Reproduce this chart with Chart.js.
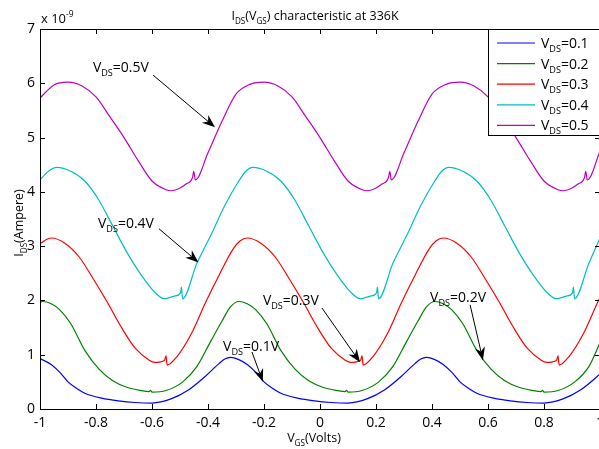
<!DOCTYPE html>
<html lang="en">
<head>
<meta charset="UTF-8">
<title>IDS(VGS) characteristic at 336K</title>
<script src="https://cdn.jsdelivr.net/npm/chart.js@4.4.1/dist/chart.umd.min.js"></script>
<style>
  html, body { margin: 0; padding: 0; background: #fff; overflow: hidden; }
  #wrap { width: 612px; height: 449px; }
</style>
</head>
<body>
<div id="wrap"><canvas id="chart" width="612" height="449"></canvas></div>
<script>
// V_GS sample points (Volts) and I_DS values (x 1e-9 A)
var vgs01 = [-1, -0.96, -0.93, -0.9, -0.87, -0.84, -0.78, -0.72, -0.66, -0.6, -0.53, -0.47, -0.41, -0.36, -0.34, -0.32, -0.29, -0.26, -0.23, -0.2, -0.17, -0.14, -0.08, -0.02, 0.04, 0.1, 0.17, 0.23, 0.29, 0.34, 0.36, 0.38, 0.41, 0.44, 0.47, 0.5, 0.53, 0.56, 0.62, 0.68, 0.74, 0.8, 0.87, 0.93, 0.99, 1];
var ids01 = [0.93, 0.82, 0.68, 0.5, 0.38, 0.29, 0.2, 0.15, 0.12, 0.11, 0.19, 0.35, 0.6, 0.84, 0.92, 0.95, 0.91, 0.82, 0.68, 0.5, 0.38, 0.29, 0.2, 0.15, 0.12, 0.11, 0.19, 0.35, 0.6, 0.84, 0.92, 0.95, 0.91, 0.82, 0.68, 0.5, 0.38, 0.29, 0.2, 0.15, 0.12, 0.11, 0.19, 0.35, 0.6, 0.65];

var vgs02 = [-1, -0.99, -0.96, -0.93, -0.89, -0.84, -0.79, -0.74, -0.69, -0.64, -0.61, -0.605, -0.6, -0.55, -0.49, -0.44, -0.39, -0.35, -0.32, -0.29, -0.26, -0.23, -0.19, -0.14, -0.09, -0.04, 0.01, 0.06, 0.09, 0.095, 0.1, 0.15, 0.21, 0.26, 0.31, 0.35, 0.38, 0.41, 0.44, 0.47, 0.51, 0.56, 0.61, 0.66, 0.71, 0.76, 0.79, 0.795, 0.8, 0.85, 0.91, 0.96, 1];
var ids02 = [1.97, 1.98, 1.94, 1.83, 1.57, 1.08, 0.74, 0.52, 0.4, 0.34, 0.32, 0.345, 0.31, 0.34, 0.5, 0.78, 1.25, 1.62, 1.88, 1.98, 1.94, 1.83, 1.57, 1.08, 0.74, 0.52, 0.4, 0.34, 0.32, 0.345, 0.31, 0.34, 0.5, 0.78, 1.25, 1.62, 1.88, 1.98, 1.94, 1.83, 1.57, 1.08, 0.74, 0.52, 0.4, 0.34, 0.32, 0.345, 0.31, 0.34, 0.5, 0.78, 1.22];

var vgs03 = [-1, -0.96, -0.91, -0.86, -0.81, -0.76, -0.71, -0.66, -0.61, -0.59, -0.555, -0.55, -0.546, -0.51, -0.46, -0.41, -0.36, -0.31, -0.285, -0.26, -0.21, -0.16, -0.11, -0.06, -0.01, 0.04, 0.09, 0.11, 0.145, 0.15, 0.154, 0.19, 0.24, 0.29, 0.34, 0.39, 0.415, 0.44, 0.49, 0.54, 0.59, 0.64, 0.69, 0.74, 0.79, 0.81, 0.845, 0.85, 0.854, 0.89, 0.94, 0.99, 1];
var ids03 = [3.05, 3.15, 3.05, 2.8, 2.4, 1.97, 1.51, 1.12, 0.9, 0.86, 0.9, 0.98, 0.81, 0.97, 1.38, 1.95, 2.47, 2.95, 3.1, 3.15, 3.05, 2.8, 2.4, 1.97, 1.51, 1.12, 0.9, 0.86, 0.9, 0.98, 0.81, 0.97, 1.38, 1.95, 2.47, 2.95, 3.1, 3.15, 3.05, 2.8, 2.4, 1.97, 1.51, 1.12, 0.9, 0.86, 0.9, 0.98, 0.81, 0.97, 1.38, 1.95, 2.06];

var vgs04 = [-1, -0.97, -0.94, -0.89, -0.84, -0.79, -0.74, -0.69, -0.64, -0.59, -0.555, -0.52, -0.498, -0.495, -0.491, -0.44, -0.39, -0.34, -0.29, -0.265, -0.24, -0.19, -0.14, -0.09, -0.04, 0.01, 0.06, 0.11, 0.145, 0.18, 0.202, 0.205, 0.209, 0.26, 0.31, 0.36, 0.41, 0.435, 0.46, 0.51, 0.56, 0.61, 0.66, 0.71, 0.76, 0.81, 0.845, 0.88, 0.902, 0.905, 0.909, 0.96, 1];
var ids04 = [4.22, 4.38, 4.45, 4.38, 4.2, 3.85, 3.37, 2.89, 2.48, 2.15, 2.03, 2.08, 2.14, 2.25, 2.03, 2.68, 3.2, 3.75, 4.2, 4.38, 4.45, 4.38, 4.2, 3.85, 3.37, 2.89, 2.48, 2.15, 2.03, 2.08, 2.14, 2.25, 2.03, 2.68, 3.2, 3.75, 4.2, 4.38, 4.45, 4.38, 4.2, 3.85, 3.37, 2.89, 2.48, 2.15, 2.03, 2.08, 2.14, 2.25, 2.03, 2.68, 3.15];

var vgs05 = [-1, -0.95, -0.9, -0.85, -0.8, -0.75, -0.7, -0.65, -0.6, -0.55, -0.53, -0.5, -0.48, -0.455, -0.451, -0.445, -0.4, -0.35, -0.3, -0.25, -0.2, -0.15, -0.1, -0.05, 0, 0.05, 0.1, 0.15, 0.17, 0.2, 0.22, 0.245, 0.249, 0.255, 0.3, 0.35, 0.4, 0.45, 0.5, 0.55, 0.6, 0.65, 0.7, 0.75, 0.8, 0.85, 0.87, 0.9, 0.92, 0.945, 0.949, 0.955, 1];
var ids05 = [5.73, 5.97, 6.02, 5.95, 5.75, 5.38, 5.0, 4.58, 4.2, 4.04, 4.02, 4.07, 4.14, 4.27, 4.38, 4.22, 4.72, 5.3, 5.8, 5.98, 6.02, 5.95, 5.75, 5.38, 5.0, 4.58, 4.2, 4.04, 4.02, 4.07, 4.14, 4.27, 4.38, 4.22, 4.72, 5.3, 5.8, 5.98, 6.02, 5.95, 5.75, 5.38, 5.0, 4.58, 4.2, 4.04, 4.02, 4.07, 4.14, 4.27, 4.38, 4.22, 4.75];

var vdsValues = ['0.1', '0.2', '0.3', '0.4', '0.5'];
var lineColors = ['#0000ff', '#008000', '#ff0000', '#00bfbf', '#bf00bf'];

var xTicks = [-1, -0.8, -0.6, -0.4, -0.2, 0, 0.2, 0.4, 0.6, 0.8, 1];
var xTickLabels = ['-1', '-0.8', '-0.6', '-0.4', '-0.2', '0', '0.2', '0.4', '0.6', '0.8', '1'];
var yTicks = [0, 1, 2, 3, 4, 5, 6, 7];
var yTickLabels = ['0', '1', '2', '3', '4', '5', '6', '7'];

// arrow notes, in data units: text anchor (left, middle), arrow tail, arrow tip
var notes = [
  { label: '0.5V', text: [-0.811, 6.3], from: [-0.596, 6.15], to: [-0.375, 5.19] },
  { label: '0.4V', text: [-0.793, 3.43], from: [-0.575, 3.32], to: [-0.434, 2.7] },
  { label: '0.3V', text: [-0.204, 2.01], from: [0.007, 1.86], to: [0.143, 0.86] },
  { label: '0.1V', text: [-0.346, 1.16], from: [-0.243, 1.05], to: [-0.204, 0.5] },
  { label: '0.2V', text: [0.393, 2.06], from: [0.536, 1.92], to: [0.582, 0.9] }
];

var FONT = '"Open Sans", sans-serif';

function pts(xs, ys) {
  return xs.map(function (v, i) { return { x: v, y: ys[i] }; });
}

// draw text made of pieces: [text, ''|'sub'|'sup']
function richText(ctx, parts, x, y, size, align) {
  var small = size * 0.65;
  var w = 0;
  parts.forEach(function (p) {
    ctx.font = (p[1] ? small : size) + 'px ' + FONT;
    w += ctx.measureText(p[0]).width;
  });
  if (align === 'center') x -= w / 2;
  ctx.textAlign = 'left';
  ctx.textBaseline = 'alphabetic';
  parts.forEach(function (p) {
    ctx.font = (p[1] ? small : size) + 'px ' + FONT;
    var dy = p[1] === 'sub' ? size * 0.28 : (p[1] === 'sup' ? -size * 0.5 : 0);
    ctx.fillText(p[0], x, y + dy);
    x += ctx.measureText(p[0]).width;
  });
}

function arrow(ctx, x1, y1, x2, y2) {
  var a = Math.atan2(y2 - y1, x2 - x1);
  var len = 13, half = 5, back = 9;
  ctx.beginPath();
  ctx.moveTo(x1, y1);
  ctx.lineTo(x2 - Math.cos(a) * back, y2 - Math.sin(a) * back);
  ctx.stroke();
  ctx.beginPath();
  ctx.moveTo(x2, y2);
  ctx.lineTo(x2 - Math.cos(a) * len - Math.sin(a) * half, y2 - Math.sin(a) * len + Math.cos(a) * half);
  ctx.lineTo(x2 - Math.cos(a) * back, y2 - Math.sin(a) * back);
  ctx.lineTo(x2 - Math.cos(a) * len + Math.sin(a) * half, y2 - Math.sin(a) * len - Math.cos(a) * half);
  ctx.closePath();
  ctx.fill();
}

var matlabLook = {
  id: 'matlabLook',
  afterDatasetsDraw: function (chart) {
    var ctx = chart.ctx, a = chart.chartArea;
    var xs = chart.scales.x, ys = chart.scales.y;
    ctx.save();
    ctx.strokeStyle = '#000';
    ctx.fillStyle = '#000';
    ctx.lineWidth = 1;

    // box and inward ticks
    ctx.strokeRect(Math.round(a.left) + 0.5, Math.round(a.top) + 0.5, a.right - a.left, a.bottom - a.top);
    ctx.beginPath();
    xTicks.forEach(function (v) {
      var px = Math.round(xs.getPixelForValue(v)) + 0.5;
      ctx.moveTo(px, a.bottom); ctx.lineTo(px, a.bottom - 5);
      ctx.moveTo(px, a.top); ctx.lineTo(px, a.top + 5);
    });
    yTicks.forEach(function (v) {
      var py = Math.round(ys.getPixelForValue(v)) + 0.5;
      ctx.moveTo(a.left, py); ctx.lineTo(a.left + 5, py);
      ctx.moveTo(a.right, py); ctx.lineTo(a.right - 5, py);
    });
    ctx.stroke();

    // arrow notes
    notes.forEach(function (n) {
      richText(ctx, [['V', ''], ['DS', 'sub'], ['=' + n.label, '']],
        xs.getPixelForValue(n.text[0]), ys.getPixelForValue(n.text[1]) + 5, 14, 'left');
      arrow(ctx, xs.getPixelForValue(n.from[0]), ys.getPixelForValue(n.from[1]),
        xs.getPixelForValue(n.to[0]), ys.getPixelForValue(n.to[1]));
    });

    // legend
    var lx = 488.5, ly = 29.5;
    ctx.fillStyle = '#fff';
    ctx.fillRect(lx, ly, 140, 106);
    ctx.strokeRect(lx, ly, 140, 106);
    chart.data.datasets.forEach(function (ds, i) {
      var cy = 43 + i * 20.6;
      ctx.strokeStyle = ds.borderColor;
      ctx.lineWidth = 1.2;
      ctx.beginPath();
      ctx.moveTo(497, cy); ctx.lineTo(535, cy);
      ctx.stroke();
      ctx.fillStyle = '#000';
      richText(ctx, [['V', ''], ['DS', 'sub'], ['=' + vdsValues[i], '']], 541, cy + 5, 14, 'left');
    });

    // title, exponent and axis labels
    ctx.fillStyle = '#000';
    richText(ctx, [['I', ''], ['DS', 'sub'], ['(V', ''], ['GS', 'sub'], [') characteristic at 336K', '']],
      (a.left + a.right) / 2 - 5, 20, 12.5, 'center');
    richText(ctx, [['x 10', ''], ['-9', 'sup']], 41, 23, 13, 'left');
    richText(ctx, [['V', ''], ['GS', 'sub'], ['(Volts)', '']], (a.left + a.right) / 2 - 6, 442, 12.5, 'center');
    ctx.translate(23, (a.top + a.bottom) / 2 + 4);
    ctx.rotate(-Math.PI / 2);
    richText(ctx, [['I', ''], ['DS', 'sub'], ['(Ampere)', '']], 0, 0, 12.5, 'center');
    ctx.restore();
  }
};

var datasets = [
  pts(vgs01, ids01), pts(vgs02, ids02), pts(vgs03, ids03), pts(vgs04, ids04), pts(vgs05, ids05)
].map(function (d, i) {
  return {
    label: 'VDS=' + vdsValues[i],
    data: d,
    borderColor: lineColors[i],
    borderWidth: 1.2,
    pointRadius: 0,
    fill: false,
    cubicInterpolationMode: 'monotone'
  };
});

new Chart(document.getElementById('chart'), {
  type: 'line',
  data: { datasets: datasets },
  options: {
    responsive: false,
    animation: false,
    layout: { padding: { top: 29, right: 12, left: 0, bottom: 0 } },
    plugins: { legend: { display: false }, tooltip: { enabled: false } },
    scales: {
      x: {
        type: 'linear', min: -1, max: 1,
        grid: { display: false, drawTicks: false },
        border: { display: false },
        afterBuildTicks: function (s) { s.ticks = xTicks.map(function (v) { return { value: v }; }); },
        afterFit: function (s) { s.height = 40; },
        ticks: {
          padding: 6, color: '#000', maxRotation: 0, autoSkip: false,
          font: { family: FONT, size: 14 },
          callback: function (v) { return xTickLabels[xTicks.indexOf(v)]; }
        }
      },
      y: {
        min: 0, max: 7,
        grid: { display: false, drawTicks: false },
        border: { display: false },
        afterBuildTicks: function (s) { s.ticks = yTicks.map(function (v) { return { value: v }; }); },
        afterFit: function (s) { s.width = 40; },
        ticks: {
          padding: 5, color: '#000',
          font: { family: FONT, size: 14 },
          callback: function (v) { return yTickLabels[yTicks.indexOf(v)]; }
        }
      }
    }
  },
  plugins: [matlabLook]
});
</script>
</body>
</html>
